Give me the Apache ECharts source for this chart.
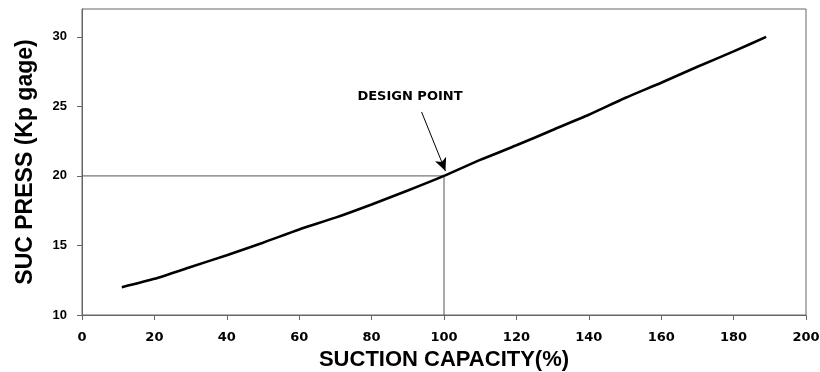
<!DOCTYPE html>
<html>
<head>
<meta charset="utf-8">
<script src="https://cdn.jsdelivr.net/npm/echarts@6/dist/echarts.min.js"></script>
<style>
  html, body { margin: 0; padding: 0; background: #fff; }
  #main { width: 820px; height: 372px; }
</style>
</head>
<body>
<div id="main"></div>
<script>
// suction capacity (%) vs suction pressure (Kp gage)
var capacity = [11, 20, 30, 40, 50, 60, 70, 80, 90, 100, 110, 120, 130, 140, 150, 160, 170, 180, 189];
var pressure = [12.0, 12.6, 13.45, 14.3, 15.2, 16.15, 17.0, 17.95, 18.95, 20.0, 21.15, 22.2, 23.3, 24.4, 25.6, 26.7, 27.85, 28.95, 30.0];

// design point guide lines
var guideX = [0, 100, 100];
var guideY = [20, 20, 10];

// annotation
var noteText = 'DESIGN POINT';
var noteAt = [90.6, 25.7];
var arrowFrom = [93.8, 24.6];
var arrowTo = [100.4, 20.35];

var yTickValues = [10, 15, 20, 25, 30];

(function () {
  var myChart = echarts.init(document.getElementById('main'));
  var option;
  option = {
    backgroundColor: '#fff',
    animation: false,
    grid: {
      left: 82,
      right: 14,
      top: 9,
      bottom: 57,
      outerBoundsMode: 'none',
      containLabel: false,
      show: true,
      borderColor: '#666',
      borderWidth: 1
    },
    xAxis: {
      type: 'value',
      min: 0,
      max: 200,
      interval: 20,
      name: 'SUCTION CAPACITY(%)',
      nameLocation: 'middle',
      nameGap: 31,
      nameTextStyle: {
        fontFamily: 'Liberation Sans',
        fontWeight: 'bold',
        fontSize: 22,
        color: '#000'
      },
      axisLine: { lineStyle: { color: '#666', width: 1 } },
      axisTick: { length: 5, lineStyle: { color: '#666' } },
      axisLabel: {
        fontFamily: 'DejaVu Sans',
        fontWeight: 'bold',
        fontSize: 13,
        color: '#000',
        margin: 16
      },
      splitLine: { show: false }
    },
    yAxis: {
      type: 'value',
      min: 10,
      max: 32,
      name: 'SUC PRESS (Kp gage)',
      nameLocation: 'middle',
      nameGap: 45,
      nameTextStyle: {
        fontFamily: 'Liberation Sans',
        fontWeight: 'bold',
        fontSize: 23,
        color: '#000'
      },
      axisLine: { show: true, lineStyle: { color: '#666', width: 1 } },
      axisTick: { show: true, length: 5, customValues: yTickValues, lineStyle: { color: '#666' } },
      axisLabel: {
        fontFamily: 'Liberation Sans',
        fontWeight: 'bold',
        fontSize: 13,
        color: '#000',
        margin: 15,
        customValues: yTickValues
      },
      splitLine: { show: false }
    },
    series: [
      {
        name: 'guide',
        type: 'line',
        silent: true,
        symbol: 'none',
        data: guideX.map(function (x, i) { return [x, guideY[i]]; }),
        lineStyle: { color: '#555', width: 1 },
        markLine: {
          silent: true,
          symbol: ['none', 'arrow'],
          symbolSize: [9, 13],
          label: { show: false },
          lineStyle: { color: '#000', width: 1, type: 'solid' },
          data: [
            [{ coord: arrowFrom }, { coord: arrowTo }]
          ]
        },
        markPoint: {
          silent: true,
          symbol: 'circle',
          symbolSize: 0,
          label: {
            show: true,
            position: 'inside',
            formatter: noteText,
            fontFamily: 'DejaVu Sans',
            fontWeight: 'bold',
            fontSize: 13,
            color: '#000'
          },
          data: [{ coord: noteAt }]
        }
      },
      {
        name: 'SUC PRESS',
        type: 'line',
        symbol: 'none',
        smooth: 0.2,
        data: capacity.map(function (x, i) { return [x, pressure[i]]; }),
        lineStyle: { color: '#000', width: 2.6 },
        z: 3
      }
    ]
  };
  if (option && typeof option === 'object') {
    myChart.setOption(option);
  }
  window.addEventListener('resize', function () {
    myChart.resize();
  });
})();
</script>
</body>
</html>
